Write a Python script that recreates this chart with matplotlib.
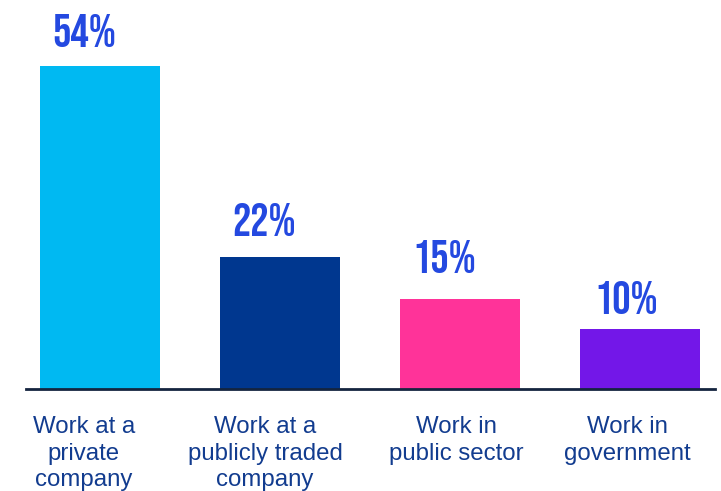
import matplotlib
matplotlib.use("Agg")
import matplotlib.pyplot as plt

categories = ["Work at a\nprivate\ncompany", "Work at a\npublicly traded\ncompany",
              "Work in\npublic sector", "Work in\ngovernment"]
values = [54, 22, 15, 10]
labels = ["54%", "22%", "15%", "10%"]
colors = ["#00b9f2", "#00378f", "#ff3399", "#7317e8"]

# hand-placed nudges (pixels) for the labels, like the original slide
value_dx = [-16, -16, -16, -14]
value_dy = [19, 21, 26, 15]
cat_dx = [-16, -15, -4, -13]

fig = plt.figure(figsize=(7.21, 4.91), dpi=100)
ax = fig.add_axes([26 / 721, 102 / 491, 689 / 721, 389 / 491])

x = range(len(values))
ax.bar(x, values, width=0.667, color=colors)
ax.set_xlim(-0.411, 3.417)
ax.set_ylim(0, 65.0)

for i, v in enumerate(values):
    ax.annotate(labels[i], (i, v), xytext=(value_dx[i], value_dy[i]),
                textcoords="offset pixels", ha="center", va="baseline",
                fontsize=33, fontweight="bold",
                family=["Bebas Neue", "Oswald", "Barlow Condensed", "DejaVu Sans"],
                color="#2449e0")
    ax.annotate(categories[i], (i, 0), xytext=(cat_dx[i], -27),
                textcoords="offset pixels", ha="center", va="top",
                multialignment="center", fontsize=17.3,
                family=["Liberation Sans", "DejaVu Sans"], color="#123c8f",
                linespacing=1.27, annotation_clip=False)

for s in ["top", "right", "left"]:
    ax.spines[s].set_visible(False)
ax.spines["bottom"].set_color("#14243f")
ax.spines["bottom"].set_linewidth(2)
ax.set_yticks([])
ax.set_xticks([])

fig.savefig("out.png")
